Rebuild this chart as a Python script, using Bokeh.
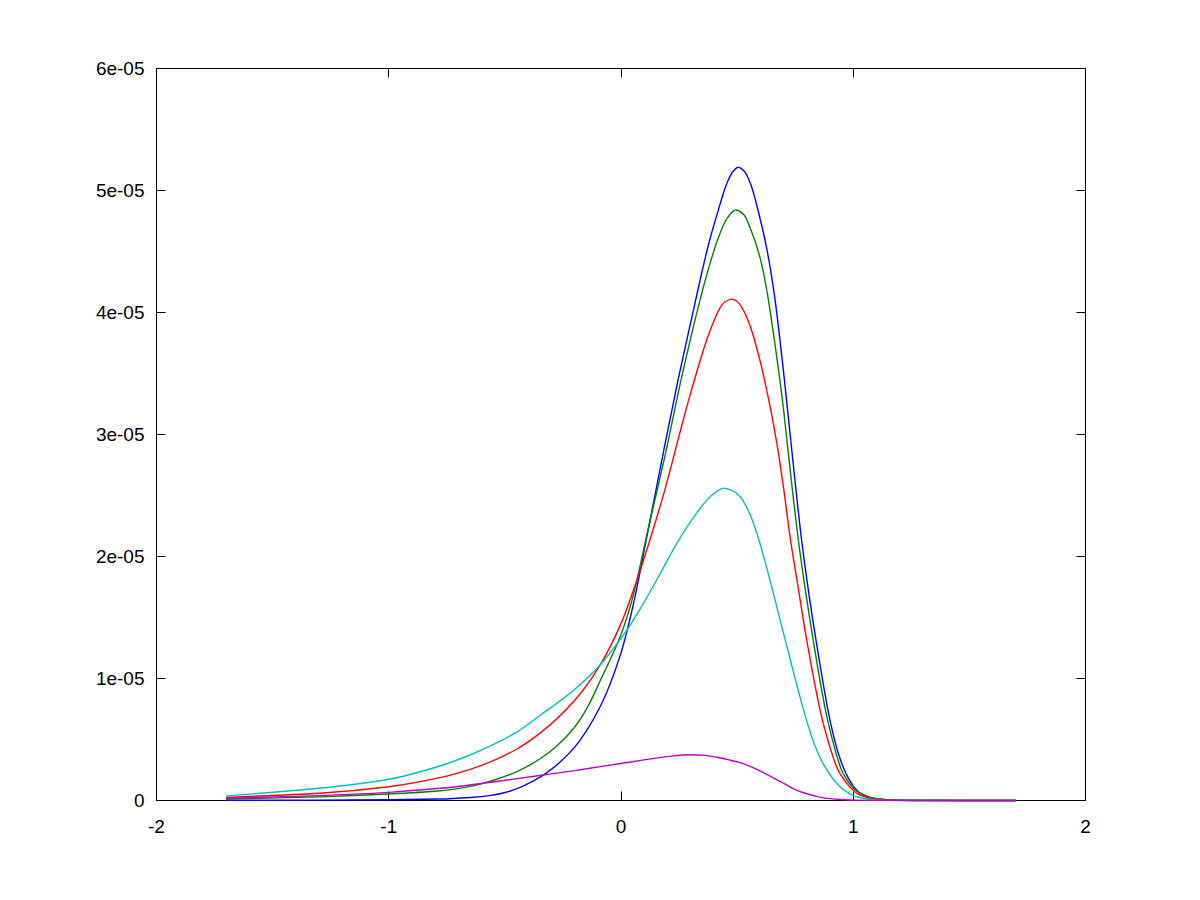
from bokeh.plotting import figure
from bokeh.models import Range1d, FixedTicker, LinearAxis, CustomJSTickFormatter, ColumnDataSource
from bokeh.embed import file_html
from bokeh.resources import INLINE
import numpy as np

# values (y in units of 1e-6)
blue_x = [-1.7, -1.3, -1.0, -0.78, -0.65, -0.56, -0.49, -0.42, -0.333, -0.204, -0.09, 0.0, 0.057, 0.108, 0.179,
          0.247, 0.312, 0.341, 0.38, 0.413, 0.456, 0.48, 0.505, 0.53, 0.557, 0.6, 0.628, 0.66, 0.699, 0.731,
          0.778, 0.81, 0.84, 0.903, 0.94, 0.969, 1.0, 1.03, 1.1, 1.2, 1.3, 1.7]
blue_y = [0.02, 0.03, 0.06, 0.12, 0.25, 0.42, 0.7, 1.2, 2.1, 4.27, 7.68, 12.1, 16.4, 21.3, 28.2,
          34.6, 40.2, 42.7, 45.8, 48.0, 50.6, 51.5, 51.9, 51.6, 50.6, 47.6, 45.2, 41.5, 35.3, 29.5,
          21.3, 16.8, 13.1, 6.3, 3.6, 2.2, 1.2, 0.6, 0.12, 0.02, 0.0, 0.0]

green_x = [-1.7, -1.3, -1.0, -0.78, -0.65, -0.56, -0.45, -0.35, -0.28, -0.2, -0.14, -0.09, 0.0, 0.047, 0.12, 0.19,
           0.26, 0.34, 0.38, 0.413, 0.456, 0.494, 0.53, 0.557, 0.6, 0.628, 0.66, 0.699, 0.714, 0.764, 0.828,
           0.893, 0.957, 1.02, 1.1, 1.2, 1.7]
green_y = [0.12, 0.3, 0.53, 0.80, 1.16, 1.6, 2.35, 3.4, 4.4, 6.0, 7.8, 9.8, 13.6, 16.4, 22.5, 28.3,
           34.6, 41.0, 43.8, 45.8, 47.7, 48.4, 48.0, 46.9, 44.4, 41.8, 37.8, 32.2, 29.6, 21.3, 13.1,
           6.3, 2.2, 0.7, 0.15, 0.02, 0.0]

red_x = [-1.7, -1.3, -1.0, -0.78, -0.65, -0.56, -0.45, -0.35, -0.2, -0.09, 0.0, 0.04, 0.176, 0.291, 0.37, 0.40,
         0.427, 0.45, 0.477, 0.5, 0.527, 0.556, 0.59, 0.628, 0.671, 0.70, 0.728, 0.76, 0.80, 0.871, 0.943,
         1.029, 1.1, 1.2, 1.7]
red_y = [0.26, 0.6, 1.13, 1.87, 2.55, 3.18, 4.2, 5.5, 8.2, 11.1, 14.5, 16.5, 24.6, 32.8, 37.8, 39.3,
         40.4, 40.9, 41.1, 40.9, 40.2, 38.9, 36.7, 33.6, 29.3, 25.6, 21.6, 17.8, 13.1, 6.3, 2.2,
         0.45, 0.1, 0.01, 0.0]

cyan_x = [-1.7, -1.3, -1.0, -0.78, -0.65, -0.56, -0.45, -0.35, -0.2, -0.09, 0.0, 0.04, 0.104, 0.169, 0.241,
          0.327, 0.384, 0.442, 0.48, 0.513, 0.55, 0.585, 0.62, 0.656, 0.728, 0.80, 0.835, 0.871, 0.943, 1.014,
          1.1, 1.2, 1.7]
cyan_y = [0.37, 1.0, 1.74, 2.83, 3.73, 4.49, 5.6, 6.95, 9.1, 11.1, 13.3, 14.4, 16.4, 18.6, 21.1,
          23.6, 24.9, 25.6, 25.4, 24.9, 23.7, 21.9, 19.6, 17.0, 11.6, 6.5, 4.5, 3.0, 1.13, 0.31,
          0.05, 0.0, 0.0]

magenta_x = [-1.7, -1.3, -1.0, -0.78, -0.65, -0.56, -0.35, -0.2, -0.09, 0.054, 0.198, 0.298, 0.36, 0.413,
             0.47, 0.513, 0.556, 0.6, 0.656, 0.7, 0.75, 0.8, 0.85, 0.9, 0.95, 1.0, 1.1, 1.7]
magenta_y = [0.18, 0.4, 0.67, 1.0, 1.27, 1.5, 2.05, 2.45, 2.78, 3.2, 3.6, 3.75, 3.7, 3.54,
             3.3, 3.1, 2.8, 2.4, 1.85, 1.4, 0.9, 0.55, 0.3, 0.15, 0.08, 0.03, 0.01, 0.0]

x_ticks = [-2, -1, 0, 1, 2]
y_ticks = [0, 1e-5, 2e-5, 3e-5, 4e-5, 5e-5, 6e-5]

series = [
    (blue_x, blue_y, "#0000ff"),
    (green_x, green_y, "#008000"),
    (red_x, red_y, "#ff0000"),
    (cyan_x, cyan_y, "#00bfbf"),
    (magenta_x, magenta_y, "#bf00bf"),
]


def smooth_segments(xs, ys):
    """Bezier control points for a monotone cubic curve through the read points."""
    x = np.asarray(xs, float)
    y = np.asarray(ys, float)
    h = np.diff(x)
    d = np.diff(y) / h
    n = len(x)
    m = np.zeros(n)
    m[0], m[-1] = d[0], d[-1]
    for k in range(1, n - 1):
        if d[k - 1] * d[k] <= 0:
            m[k] = 0.0
        else:
            w1 = 2 * h[k] + h[k - 1]
            w2 = h[k] + 2 * h[k - 1]
            m[k] = (w1 + w2) / (w1 / d[k - 1] + w2 / d[k])
    return dict(
        x0=x[:-1], y0=y[:-1], x1=x[1:], y1=y[1:],
        cx0=x[:-1] + h / 3, cy0=y[:-1] + m[:-1] * h / 3,
        cx1=x[1:] - h / 3, cy1=y[1:] - m[1:] * h / 3,
    )


p = figure(width=1184, height=884, output_backend="svg", toolbar_location=None,
           x_range=Range1d(-2, 2), y_range=Range1d(0, 6e-5),
           x_axis_location=None, y_axis_location=None,
           min_border_left=156, min_border_top=68, min_border_right=99, min_border_bottom=84)
p.xgrid.visible = False
p.ygrid.visible = False
p.outline_line_color = "black"
p.outline_line_width = 1
p.background_fill_color = "white"
p.border_fill_color = "white"

for xs, ys, c in series:
    yv = list(np.array(ys) * 1e-6)
    src = ColumnDataSource(smooth_segments(xs, yv))
    r = p.bezier(x0="x0", y0="y0", x1="x1", y1="y1", cx0="cx0", cy0="cy0",
                 cx1="cx1", cy1="cy1", source=src, line_color=c, line_width=1.4)
    r.level = "overlay"

FONT = "Liberation Sans"
yfmt = CustomJSTickFormatter(code="""
if (tick == 0) return "0";
var s = tick.toExponential(0);
return s.replace(/e-(\\d)$/, "e-0$1");
""")
xfmt = CustomJSTickFormatter(code="return String(tick);")


def style(ax, show_labels):
    ax.axis_line_color = "black"
    ax.major_tick_in = 9
    ax.major_tick_out = 0
    ax.major_tick_line_color = "black"
    ax.minor_tick_line_color = None
    ax.major_label_text_font = FONT
    ax.major_label_text_font_size = "19px"
    ax.major_label_text_color = "black" if show_labels else None


xb = LinearAxis(ticker=FixedTicker(ticks=x_ticks), formatter=xfmt)
style(xb, True)
xb.major_label_standoff = 19
xt = LinearAxis(ticker=FixedTicker(ticks=x_ticks), formatter=xfmt)
style(xt, False)
yl = LinearAxis(ticker=FixedTicker(ticks=y_ticks), formatter=yfmt)
style(yl, True)
yl.major_label_standoff = 12
yr = LinearAxis(ticker=FixedTicker(ticks=y_ticks), formatter=yfmt)
style(yr, False)

p.add_layout(xb, "below")
p.add_layout(xt, "above")
p.add_layout(yl, "left")
p.add_layout(yr, "right")

open("out.html", "w").write(file_html(p, INLINE))
